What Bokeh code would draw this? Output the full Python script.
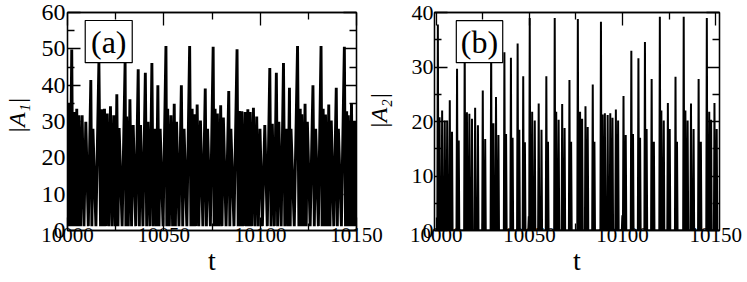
import math
from bokeh.plotting import figure
from bokeh.layouts import row
from bokeh.models import (FixedTicker, LinearAxis, Label, BoxAnnotation, Range1d,
                          CustomJSTickFormatter)
from bokeh.embed import file_html
from bokeh.resources import INLINE

# ---------------- data ----------------
# panel (a): peak times and peak values of |A1|
t_a = [10000.5, 10002.2, 10003.4, 10004.8, 10005.9, 10007.6, 10009.5, 10012.1, 10013.2,
       10016.3, 10018.0, 10019.2, 10020.6, 10022.3, 10024.0, 10025.6, 10026.8,
       10029.9, 10030.7, 10032.4, 10034.1, 10036.7, 10037.9, 10040.4, 10041.8,
       10043.8, 10045.2, 10046.9, 10048.1, 10051.1, 10052.0, 10053.7, 10055.4,
       10056.6, 10059.1, 10060.5, 10063.4, 10064.7, 10065.9, 10067.3, 10069.0,
       10071.5, 10072.7, 10075.6, 10076.6, 10077.8, 10079.5, 10080.9, 10083.7,
       10084.8, 10088.0, 10089.2, 10090.5, 10092.2, 10093.6, 10094.8, 10096.5,
       10098.2, 10099.9, 10102.4, 10105.0, 10106.3, 10108.4, 10109.7, 10112.1,
       10113.5, 10115.2, 10116.0, 10119.4, 10120.8, 10121.6, 10123.3, 10124.5,
       10127.4, 10128.8, 10131.6, 10132.7, 10133.9, 10135.6, 10136.9, 10139.5,
       10140.6, 10143.7, 10144.9, 10145.7, 10147.4, 10148.6, 10150.0]
A1_peak = [34.9, 49.8, 32.6, 33.5, 31.7, 31.7, 29.9, 41.4, 28.0,
           46.4, 33.4, 33.5, 32.2, 34.2, 31.7, 37.5, 28.2,
           46.4, 31.4, 36.1, 29.0, 44.4, 29.0, 43.4, 29.9,
           46.1, 28.0, 40.0, 28.0, 50.8, 33.5, 31.7, 34.9,
           29.9, 40.0, 28.0, 50.8, 33.5, 32.0, 34.7, 30.3,
           39.1, 28.0, 50.6, 33.5, 32.2, 34.5, 31.1, 38.4,
           28.0, 49.9, 32.9, 32.8, 32.6, 33.4, 32.6, 33.8,
           31.4, 28.0, 29.0, 44.7, 29.4, 43.4, 29.9, 46.1,
           28.0, 39.3, 28.0, 50.8, 33.5, 32.0, 34.9, 29.9,
           40.0, 28.0, 50.8, 33.5, 31.9, 34.7, 30.3, 39.3,
           28.0, 50.6, 32.8, 31.7, 34.9, 29.9, 30.0]
A1_low = [1.2]  # level of the minima between spikes

# panel (b): peak times and peak values of |A2|
t_b = [10000.9, 10001.8, 10003.2, 10004.6, 10005.9, 10007.3, 10008.5, 10011.2, 10012.1,
       10015.3, 10016.5, 10017.8, 10019.2, 10020.9, 10022.4, 10025.0, 10026.3,
       10029.5, 10030.7, 10032.1, 10033.4, 10036.6, 10037.5, 10040.1, 10041.0,
       10043.7, 10044.6, 10046.7, 10047.6, 10049.7, 10050.2, 10051.5, 10052.9,
       10055.0, 10056.5, 10059.1, 10060.0, 10063.6, 10064.4, 10065.7, 10067.6,
       10068.9, 10071.5, 10072.4, 10076.0, 10077.2, 10078.3, 10080.1, 10081.3,
       10084.0, 10084.9, 10088.4, 10089.3, 10090.5, 10092.0, 10093.4, 10094.6,
       10096.4, 10097.6, 10099.9, 10100.5, 10101.7, 10104.7, 10105.6, 10108.5,
       10109.4, 10112.0, 10112.9, 10115.6, 10116.8, 10120.0, 10120.8, 10122.1,
       10124.3, 10125.3, 10128.4, 10129.2, 10132.8, 10133.7, 10134.9, 10136.7,
       10138.1, 10140.8, 10142.0, 10145.2, 10146.5, 10147.5, 10149.3, 10150.5]
A2_peak = [37.8, 20.8, 22.0, 20.2, 20.2, 23.9, 18.1, 29.7, 16.5,
           34.5, 21.7, 21.4, 20.5, 22.5, 19.3, 25.7, 16.8,
           34.5, 19.7, 24.5, 17.5, 32.7, 17.7, 31.7, 17.0,
           34.3, 18.5, 28.3, 16.2, 2.6, 39.0, 21.8, 20.2,
           23.3, 18.5, 28.3, 16.3, 39.0, 21.8, 20.3, 23.2,
           18.8, 27.6, 16.3, 38.8, 21.8, 20.5, 22.8, 19.0,
           26.8, 16.3, 38.3, 21.3, 21.5, 21.2, 21.5, 20.7,
           22.2, 20.2, 2.8, 24.7, 17.5, 33.0, 17.7, 31.6,
           17.0, 34.6, 18.6, 27.8, 16.3, 39.2, 22.0, 20.2,
           23.4, 18.6, 28.2, 16.3, 39.2, 22.0, 20.2, 23.3,
           18.6, 27.8, 16.3, 39.0, 21.8, 20.3, 23.4, 18.6]
A2_low = [0.0]

x_ticks = [10000, 10050, 10100, 10150]
x_minor = [10025, 10075, 10125]
y_ticks_a = [0, 10, 20, 30, 40, 50, 60]
y_ticks_b = [0, 10, 20, 30, 40]

# ---------------- build traces ----------------
def spikes_a(ts, hs, low):
    xs, ys = [ts[0] - 0.6], [low]
    for i, (t, h) in enumerate(zip(ts, hs)):
        if i > 0:
            tp = ts[i - 1]
            xs.append(0.5 * (tp + t))
            ys.append(low)
        xs.append(t)
        ys.append(h)
    return xs, ys


def spikes_b(ts, hs, low):
    xs, ys = [ts[0] - 1.5], [low]
    for t, h in zip(ts, hs):
        xs += [t - 0.3, t, t + 0.3]
        ys += [low, h, low]
    return xs, ys


FONT = "Liberation Serif"
H = 282


def style(p, yt, ylab_standoff, ylab_size):
    ymin_ticks = [v + 5 for v in yt[:-1]]
    top = LinearAxis()
    right = LinearAxis()
    p.add_layout(top, "above")
    p.add_layout(right, "right")
    for ax in p.xaxis:
        ax.ticker = FixedTicker(ticks=x_ticks, minor_ticks=x_minor)
    for ax in p.yaxis:
        ax.ticker = FixedTicker(ticks=yt, minor_ticks=ymin_ticks)
    for ax in p.axis:
        ax.major_tick_in = 13
        ax.major_tick_out = 0
        ax.minor_tick_in = 7
        ax.minor_tick_out = 0
        ax.axis_line_color = "black"
        ax.axis_line_width = 1.3
        ax.major_tick_line_color = "black"
        ax.minor_tick_line_color = "black"
        ax.major_tick_line_width = 1.3
        ax.minor_tick_line_width = 1.3
        ax.major_label_text_font = FONT
        ax.major_label_text_color = "black"
        ax.axis_label_text_font = FONT
        ax.axis_label_text_color = "black"
    for ax in (top, right):
        ax.major_label_text_font_size = "0px"
        ax.major_label_text_alpha = 0
        ax.major_label_standoff = 0
    b = p.below[0]
    b.major_label_text_font_size = "21px"
    b.major_label_standoff = -3
    b.axis_label = "t"
    b.axis_label_text_font_size = "28px"
    b.axis_label_text_font_style = "normal"
    b.axis_label_standoff = 0
    lft = p.left[0]
    lft.major_label_text_font_size = ylab_size
    lft.major_label_standoff = ylab_standoff
    p.grid.visible = False
    p.outline_line_color = "black"
    p.outline_line_width = 1.3
    return top, right


def boxed_tag(p, l, r, b, t, txt):
    p.add_layout(BoxAnnotation(left=l, right=r, bottom=b, top=t, fill_color="white",
                               fill_alpha=1, line_color="black", line_alpha=1, line_width=1.2))
    p.add_layout(Label(x=(l + r) / 2, y=(b + t) / 2, text=txt, text_font=FONT,
                       text_font_size="32px", text_align="center", text_baseline="middle",
                       text_color="black"))


# ---------------- panel (a) ----------------
xa, ya = spikes_a(t_a, A1_peak, A1_low[0])
p1 = figure(width=408, height=H, output_backend="svg", toolbar_location=None,
            x_range=Range1d(10000, 10150), y_range=Range1d(0, 60),
            min_border_left=62, min_border_right=51, min_border_top=12, min_border_bottom=52)
top1, right1 = style(p1, y_ticks_a, 2, "24px")
p1.line(xa, ya, line_color="black", line_width=2.9)
boxed_tag(p1, 10009.2, 10033.6, 46.2, 57.8, "(a)")
l1 = p1.left[0]
l1.axis_label = "\u00a0\u00a0|A\u2081|"
l1.axis_label_text_font_size = "24px"
l1.axis_label_text_font_style = "italic"
l1.axis_label_standoff = 9

# the y label of panel (b) lies in the gap between the frames: carried by an
# outer right axis of panel (a) as a single rotated tick label
lab2 = LinearAxis(ticker=FixedTicker(ticks=[28], minor_ticks=[]),
                  formatter=CustomJSTickFormatter(code="return '|A\u2082|'"),
                  axis_line_color=None, major_tick_line_color=None,
                  minor_tick_line_color=None, major_tick_in=0, major_tick_out=0,
                  major_label_standoff=23, major_label_orientation=math.pi / 2,
                  major_label_text_font=FONT, major_label_text_font_size="24px",
                  major_label_text_font_style="italic", major_label_text_color="black")
p1.add_layout(lab2, "right")

# ---------------- panel (b) ----------------
xb, yb = spikes_b(t_b, A2_peak, A2_low[0])
p2 = figure(width=339, height=H, output_backend="svg", toolbar_location=None,
            x_range=Range1d(9999.1, 10152.0), y_range=Range1d(0, 40),
            min_border_left=24, min_border_right=28, min_border_top=12, min_border_bottom=52)
style(p2, y_ticks_b, 1, "22px")
p2.line(xb, yb, line_color="black", line_width=2.0)
boxed_tag(p2, 10010.8, 10035.7, 30.8, 38.5, "(b)")

layout = row(p1, p2, spacing=0)
open("out.html", "w").write(file_html(layout, INLINE))
